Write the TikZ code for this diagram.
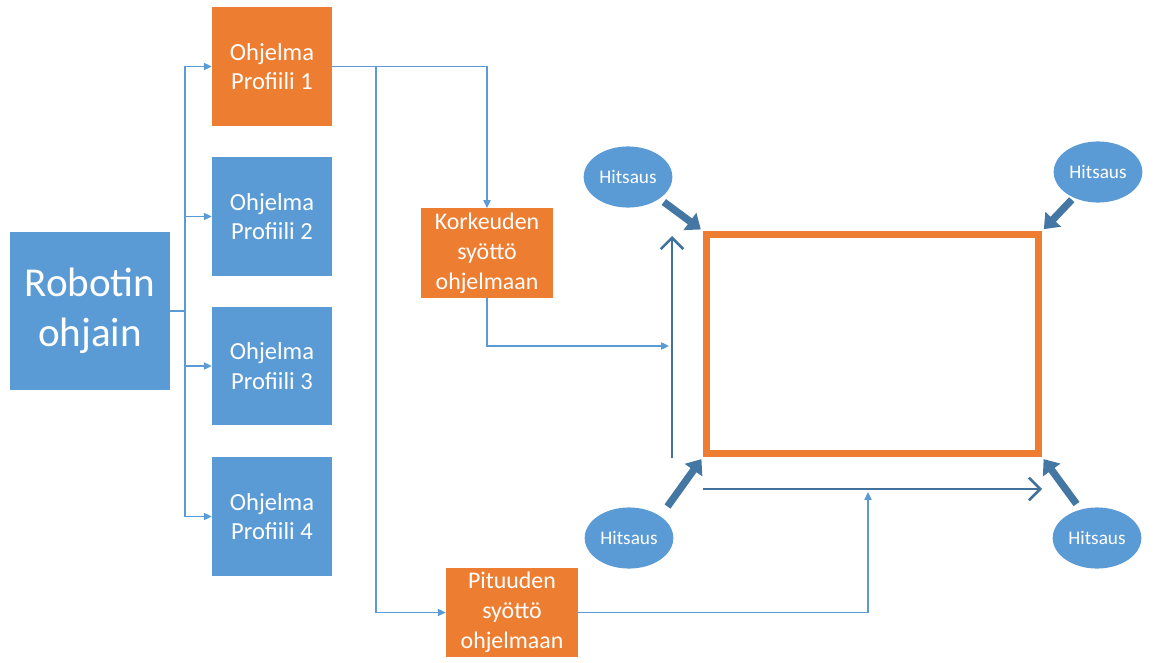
\documentclass[tikz,border=0pt]{standalone}
\usepackage{fontspec}
\setmainfont{Carlito}
\usepackage{pgf,tikz}
\usetikzlibrary{arrows.meta}
\usetikzlibrary{calc}
\usetikzlibrary{shapes.geometric}
\definecolor{boxblue}{HTML}{5B9BD5}
\definecolor{boxorange}{HTML}{ED7D31}
\definecolor{darkblue}{HTML}{41719C}
\begin{document}
\begin{tikzpicture}[x=0.0265cm, y=-0.0265cm,
  box/.style={fill=boxblue, text=white, align=center, inner sep=0pt,
    font=\fontsize{18.5}{22.5}\selectfont},
  prog/.style={box, minimum width=3.18cm, minimum height=3.15cm},
  feed/.style={box, fill=boxorange, minimum width=3.5cm, minimum height=2.37cm,
    font=\fontsize{18}{22.5}\selectfont},
  weld/.style={ellipse, fill=boxblue, text=white, minimum width=2.35cm,
    minimum height=1.62cm, inner sep=0pt, font=\fontsize{14.5}{16}\selectfont},
  conn/.style={boxblue, line width=0.9pt, -{Triangle[length=6pt, width=5.5pt]}},
  bigarrow/.style={darkblue, line width=1.9pt,
    -{Straight Barb[length=0.3cm, width=0.6cm, line width=1.9pt]}},
  push/.style={darkblue!85!boxblue, line width=5.5pt, shorten <=2pt, shorten >=2pt,
    -{Triangle[length=0.36cm, width=0.55cm]}}]
\useasboundingbox (0,0) rectangle (1155,662);
% controller and the four programs
\node[box, minimum width=4.24cm, minimum height=4.19cm,
  font=\fontsize{31}{37.5}\selectfont] (robot) at (90,311) {Robotin\\ohjain};
\node[prog, fill=boxorange] (p1) at (272,66.5) {Ohjelma\\Profiili 1};
\node[prog] (p2) at (272,216.5) {Ohjelma\\Profiili 2};
\node[prog] (p3) at (272,366) {Ohjelma\\Profiili 3};
\node[prog] (p4) at (272,516.5) {Ohjelma\\Profiili 4};
\coordinate (trunk) at (185,311);
\draw[boxblue, line width=0.9pt] (robot.east) -- (trunk);
\foreach \i in {1,2,3,4}
\draw[conn] (trunk) |- (p\i.west);
% height and length input
\node[feed] (height) at (487,253) {Korkeuden\\syöttö\\ohjelmaan};
\node[feed] (length) at (512,612.5) {Pituuden\\syöttö\\ohjelmaan};
\coordinate (split) at (376,66.5);
\draw[conn] (p1.east) -| (height.north);
\draw[conn] (split) |- (length.west);
% workpiece
\node[draw=boxorange, line width=5.3pt, minimum width=8.8cm, minimum height=5.8cm,
  inner sep=0pt] (frame) at (872.5,344) {};
\coordinate (vbot) at (672,458);
\coordinate (vtop) at (672,236);
\coordinate (hleft) at (703,489);
\coordinate (hright) at (1042,489);
\draw[bigarrow] (vbot) -- (vtop);
\draw[bigarrow] (hleft) -- (hright);
\coordinate (vin) at (669,346);
\coordinate (hin) at (868,492);
\draw[conn] (height.south) |- (vin);
\draw[conn] (length.east) -| (hin);
% welding points
\node[weld] (h1) at (628,177) {Hitsaus};
\node[weld] (h2) at (1098,172) {Hitsaus};
\node[weld] (h3) at (629,538) {Hitsaus};
\node[weld] (h4) at (1097,538) {Hitsaus};
\draw[push, shorten <=4pt] (h1.south east) -- (frame.north west);
\draw[push] (h2) -- (frame.north east);
\draw[push, shorten <=9pt] (h3.north east) -- (frame.south west);
\draw[push, shorten <=5pt] (h4.120) -- (frame.south east);
\end{tikzpicture}
\end{document}
